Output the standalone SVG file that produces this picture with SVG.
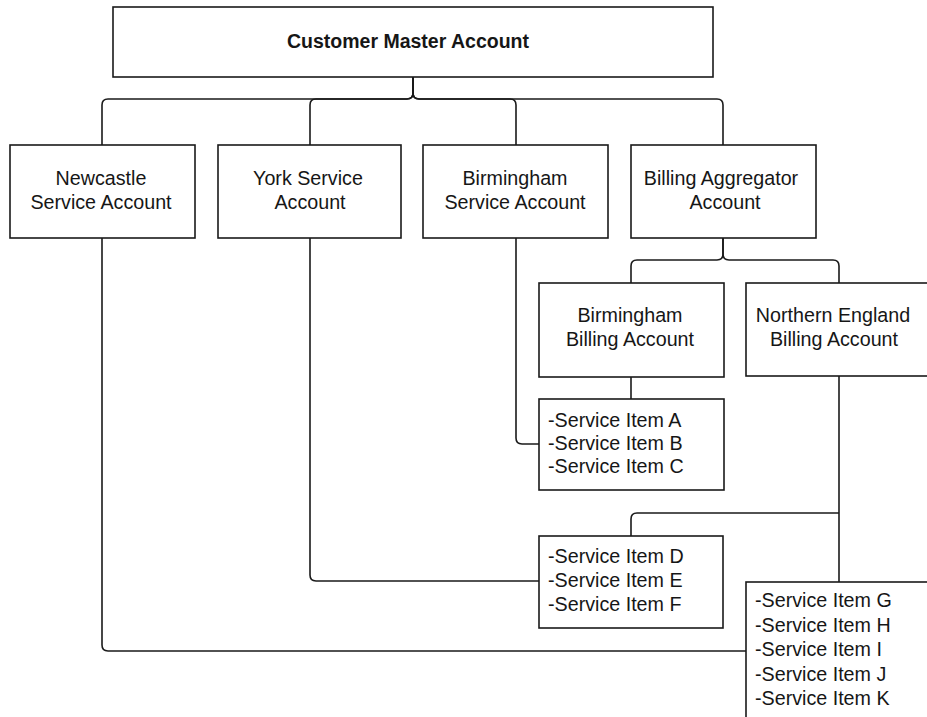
<svg xmlns="http://www.w3.org/2000/svg" width="927" height="717" viewBox="0 0 927 717">
  <style>
    .box { fill: #ffffff; stroke: #1a1a1a; stroke-width: 1.6; }
    .wire { fill: none; stroke: #1a1a1a; stroke-width: 1.6; }
    text { font-family: "Liberation Sans", Arial, sans-serif; font-size: 19.7px; fill: #161616; }
    .c { text-anchor: middle; }
    .title { font-weight: bold; font-size: 19.5px; }
  </style>
  <rect x="0" y="0" width="927" height="717" fill="#ffffff"/>

  <!-- connectors -->
  <g id="connectors">
    <path class="wire" d="M413,77 V93 Q413,99 407,99 H108 Q102,99 102,105 V145"/>
    <path class="wire" d="M413,77 V93 Q413,99 407,99 H316 Q310,99 310,105 V145"/>
    <path class="wire" d="M413,77 V93 Q413,99 419,99 H510 Q516,99 516,105 V145"/>
    <path class="wire" d="M413,77 V93 Q413,99 419,99 H717 Q723,99 723,105 V145"/>
    <path class="wire" d="M723,238 V254 Q723,260 717,260 H637 Q631,260 631,266 V283"/>
    <path class="wire" d="M723,238 V254 Q723,260 729,260 H833 Q839,260 839,266 V283"/>
    <path class="wire" d="M631,377 V399"/>
    <path class="wire" d="M516,238 V438 Q516,444 522,444 H539"/>
    <path class="wire" d="M839,376 V582"/>
    <path class="wire" d="M839,513 H637 Q631,513 631,519 V536"/>
    <path class="wire" d="M310,238 V575 Q310,581 316,581 H539"/>
    <path class="wire" d="M102,238 V645 Q102,651 108,651 H746"/>
  </g>

  <g id="customer-master">
    <rect class="box" x="113" y="7" width="600" height="70"/>
    <text class="c title" x="408" y="48">Customer Master Account</text>
  </g>

  <g id="newcastle-service">
    <rect class="box" x="10" y="145" width="185" height="93"/>
    <text class="c" x="101" y="185">Newcastle</text>
    <text class="c" x="101" y="209">Service Account</text>
  </g>

  <g id="york-service">
    <rect class="box" x="218" y="145" width="183" height="93"/>
    <text class="c" x="308" y="185">York Service</text>
    <text class="c" x="310" y="209">Account</text>
  </g>

  <g id="birmingham-service">
    <rect class="box" x="423" y="145" width="185" height="93"/>
    <text class="c" x="515" y="185">Birmingham</text>
    <text class="c" x="515" y="209">Service Account</text>
  </g>

  <g id="billing-aggregator">
    <rect class="box" x="631" y="145" width="185" height="93"/>
    <text class="c" x="721" y="185">Billing Aggregator</text>
    <text class="c" x="725" y="209">Account</text>
  </g>

  <g id="birmingham-billing">
    <rect class="box" x="539" y="283" width="185" height="94"/>
    <text class="c" x="630" y="322">Birmingham</text>
    <text class="c" x="630" y="346">Billing Account</text>
  </g>

  <g id="northern-england-billing">
    <rect class="box" x="746" y="283" width="190" height="93"/>
    <text class="c" x="833" y="322">Northern England</text>
    <text class="c" x="834" y="346">Billing Account</text>
  </g>

  <g id="items-a-c">
    <rect class="box" x="539" y="399" width="185" height="91"/>
    <text x="548" y="427">-Service Item A</text>
    <text x="548" y="450">-Service Item B</text>
    <text x="548" y="473">-Service Item C</text>
  </g>

  <g id="items-d-f">
    <rect class="box" x="539" y="536" width="184" height="92"/>
    <text x="548" y="563">-Service Item D</text>
    <text x="548" y="587">-Service Item E</text>
    <text x="548" y="611">-Service Item F</text>
  </g>

  <g id="items-g-k">
    <rect class="box" x="746" y="582" width="200" height="150"/>
    <text x="755" y="607">-Service Item G</text>
    <text x="755" y="631.5">-Service Item H</text>
    <text x="755" y="656">-Service Item I</text>
    <text x="755" y="680.5">-Service Item J</text>
    <text x="755" y="705">-Service Item K</text>
  </g>
</svg>
